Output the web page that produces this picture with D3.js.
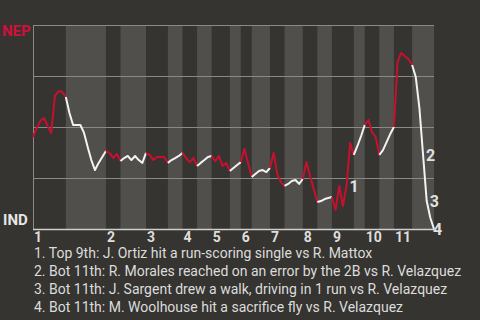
<!DOCTYPE html>
<html>
<head>
<meta charset="utf-8">
<script src="https://cdn.jsdelivr.net/npm/d3@7"></script>
<style>
  body { margin: 0; background: #353430; overflow: hidden; }
  text { font-family: Roboto, "Noto Sans", sans-serif; }
</style>
</head>
<body>
<div id="chart"></div>
<script>
// win probability, NEP at top (1) and IND at bottom (0)
var teams = ["NEP", "IND"];
var innings = ["1","2","3","4","5","6","7","8","9","10","11"];
var startProb = 0.451;

// one array per half inning, value after each plate appearance
var topProbs = [
    [0.495,0.529,0.544,0.505,0.471,0.652,0.676,0.672,0.647],
    [0.373,0.348,0.368,0.333],
    [0.363,0.338,0.353,0.353,0.353,0.324],
    [0.348,0.328,0.348,0.309],
    [0.333,0.358,0.309,0.324,0.284],
    [0.392,0.324,0.255],
    [0.373,0.270,0.230,0.211],
    [0.328,0.260,0.196,0.132],
    [0.093,0.211,0.113,0.211,0.422,0.363],
    [0.534,0.475,0.451,0.363],
    [0.819,0.863,0.848,0.833,0.804]
];
var botProbs = [
    [0.569,0.510,0.510,0.510,0.471,0.402,0.338,0.289,0.324,0.353,0.382],
    [0.348,0.358,0.338,0.358,0.338,0.324,0.373],
    [0.338,0.348,0.358,0.373],
    [0.324,0.338,0.353,0.358],
    [0.299,0.314,0.328],
    [0.270,0.284,0.289,0.279,0.299],
    [0.221,0.235,0.240,0.221,0.245],
    [0.137,0.147,0.152,0.157],
    [0.407,0.456,0.510],
    [0.387,0.426,0.466,0.500],
    [0.745,0.593,0.363,0.137,0.054,0.000]
];

// play number (counted from the first pitch) for each marked play
var notePlays = [86, 107, 108, 110];
var notes = [
    "1. Top 9th: J. Ortiz hit a run-scoring single vs R. Mattox",
    "2. Bot 11th: R. Morales reached on an error by the 2B vs R. Velazquez",
    "3. Bot 11th: J. Sargent drew a walk, driving in 1 run vs R. Velazquez",
    "4. Bot 11th: M. Woolhouse hit a sacrifice fly vs R. Velazquez"
];

var dim = {
    width: 480,
    height: 320,
    margin: { top: 25, left: 33, right: 46, bottom: 91 }
};
dim.boundedWidth = dim.width - dim.margin.left - dim.margin.right;
dim.boundedHeight = dim.height - dim.margin.top - dim.margin.bottom;

// flatten halves into one list of points
var halves = [];
var points = [{ i: 0, p: startProb }];
innings.forEach(function(inn, k) {
    [topProbs[k], botProbs[k]].forEach(function(vals, h) {
        var start = points.length - 1;
        var seg = [points[points.length - 1]];
        vals.forEach(function(v) {
            var pt = { i: points.length, p: v };
            points.push(pt);
            seg.push(pt);
        });
        halves.push({ inning: inn, bottom: h == 1, start: start, end: points.length - 1, seg: seg });
    });
});

var svg = d3.select("#chart").append("svg")
    .attr("width", dim.width)
    .attr("height", dim.height);

var bounded = svg.append("g")
    .attr("transform", "translate(" + dim.margin.left + "," + dim.margin.top + ")");

var xScaler = d3.scaleLinear()
    .domain([0, points.length - 1])
    .range([0, dim.boundedWidth]);

var yScaler = d3.scaleLinear()
    .domain([0, 1])
    .range([dim.boundedHeight, 0]);

// bottom halves get the lighter band
bounded.selectAll("rect.band")
    .data(halves.filter(function(d) { return d.bottom; }))
    .enter()
    .append("rect")
    .attr("class", "band")
    .attr("x", function(d) { return xScaler(d.start); })
    .attr("width", function(d) { return xScaler(d.end) - xScaler(d.start); })
    .attr("y", 0)
    .attr("height", dim.boundedHeight)
    .attr("fill", "#504f4c");

var yAxis = bounded.append("g")
    .call(d3.axisLeft(yScaler).tickValues([0.25, 0.5, 0.75, 1]).tickSize(-dim.boundedWidth).tickFormat(""));
yAxis.select(".domain").attr("stroke", "#8a8987");
yAxis.selectAll(".tick line").attr("stroke", "#8a8987");

bounded.append("line")
    .attr("x1", 0)
    .attr("x2", dim.boundedWidth)
    .attr("y1", yScaler(0) + 0.5)
    .attr("y2", yScaler(0) + 0.5)
    .attr("stroke", "#cfcfcd")
    .attr("stroke-width", 1.5);

// inning numbers at the start of each top half
bounded.selectAll("text.inning")
    .data(halves.filter(function(d) { return !d.bottom; }))
    .enter()
    .append("text")
    .attr("class", "inning")
    .attr("x", function(d) { return xScaler(d.start) + 1; })
    .attr("y", dim.boundedHeight + 13)
    .attr("fill", "#dedede")
    .style("font-size", "14px")
    .style("font-weight", "bold")
    .text(function(d) { return d.inning; });

var lineGenerator = d3.line()
    .x(function(d) { return xScaler(d.i); })
    .y(function(d) { return yScaler(d.p); });

bounded.selectAll("path.wp")
    .data(halves)
    .enter()
    .append("path")
    .attr("class", "wp")
    .attr("d", function(d) { return lineGenerator(d.seg); })
    .attr("fill", "none")
    .attr("stroke", function(d) { return d.bottom ? "#f2f2f2" : "#c8102e"; })
    .attr("stroke-width", 2)
    .attr("stroke-linejoin", "round");

// play markers, kept from running off the right side
bounded.selectAll("text.mark")
    .data(notePlays)
    .enter()
    .append("text")
    .attr("class", "mark")
    .attr("x", function(d) { return Math.min(xScaler(d) + 3, dim.boundedWidth - 1); })
    .attr("y", function(d) { return yScaler(points[d].p); })
    .attr("dy", "0.36em")
    .attr("fill", "#e0e0e0")
    .style("font-size", "16px")
    .style("font-weight", "bold")
    .text(function(d, i) { return i + 1; });

svg.append("text")
    .attr("x", 2)
    .attr("y", 36)
    .attr("fill", "#d0103a")
    .style("font-size", "15px")
    .style("font-weight", "bold")
    .text(teams[0]);

svg.append("text")
    .attr("x", 3)
    .attr("y", 225)
    .attr("fill", "#e6e6e6")
    .style("font-size", "15px")
    .style("font-weight", "bold")
    .text(teams[1]);

svg.selectAll("text.note")
    .data(notes)
    .enter()
    .append("text")
    .attr("class", "note")
    .attr("x", 34)
    .attr("y", function(d, i) { return 258 + i * 18; })
    .attr("fill", "#dcdcdc")
    .style("font-size", "14px")
    .text(function(d) { return d; });
</script>
</body>
</html>
